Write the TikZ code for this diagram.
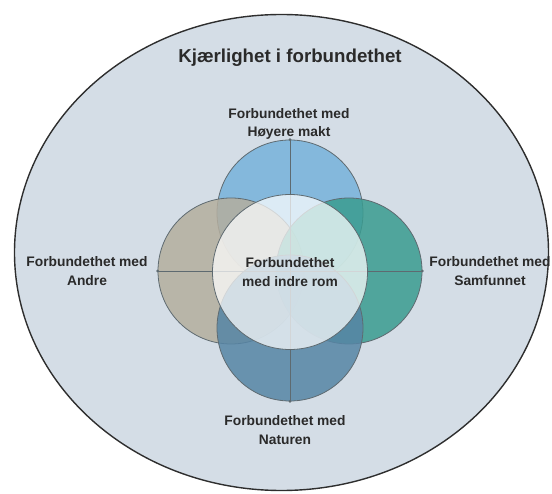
\documentclass[tikz,border=0pt]{standalone}
\usepackage{fontspec}
\setmainfont{Liberation Sans}
\usetikzlibrary{shapes.geometric}
\definecolor{bgfill}{HTML}{D4DDE6}
\definecolor{rimcol}{HTML}{2E2E2E}
\definecolor{topcol}{HTML}{76B2DB}
\definecolor{leftcol}{HTML}{B4AE9E}
\definecolor{rightcol}{HTML}{3A9C90}
\definecolor{botcol}{HTML}{5685A5}
\definecolor{txtcol}{HTML}{2A2A2A}
\definecolor{linecol}{HTML}{5E6A70}
\tikzset{
  petal/.style={circle, draw=linecol, line width=0.8pt, minimum size=146pt, inner sep=0pt, fill opacity=0.85},
  core/.style={circle, draw=linecol, line width=0.8pt, minimum size=155pt, inner sep=0pt, fill=white, fill opacity=0.72},
  lbl/.style={font=\fontsize{13.8}{18.5}\selectfont\bfseries, text=txtcol, align=center, inner sep=0pt},
  crossline/.style={draw=linecol, line width=0.7pt},
  enddot/.style={circle, fill=linecol, inner sep=0pt, minimum size=3pt}
}
\begin{document}
\begin{tikzpicture}[x=1pt,y=-1pt]
\useasboundingbox (0,0) rectangle (552,494);
\node[ellipse, draw=rimcol, line width=1.4pt, fill=bgfill, minimum width=534pt, minimum height=476pt, inner sep=0pt] (outer) at (281.5,252.5) {};
\node[font=\fontsize{18.7}{21}\selectfont\bfseries, text=txtcol] (title) at (290,58) {Kjærlighet i forbundethet};
\node[petal, fill=topcol] (ptop) at (290,213) {};
\node[petal, fill=leftcol] (pleft) at (231,271) {};
\node[petal, fill=rightcol] (pright) at (349,271) {};
\node[petal, fill=botcol] (pbot) at (290,328) {};
\draw[crossline] (pleft.west) -- (pright.east);
\draw[crossline] (ptop.north) -- (pbot.south);
\node[enddot] (dl) at (pleft.west) {};
\node[enddot] (dr) at (pright.east) {};
\node[enddot] (dt) at (ptop.north) {};
\node[enddot] (db) at (pbot.south) {};
\node[core] (pcore) at (290,272) {};
\node[lbl] (lcore) at (290,272) {Forbundethet\\med indre rom};
\node[lbl] (ltop) at (289,124) {Forbundethet med\\Høyere makt};
\node[lbl] (lleft) at (87,271) {Forbundethet med\\Andre};
\node[lbl] (lright) at (490,271) {Forbundethet med\\Samfunnet};
\node[lbl] (lbot) at (285,430) {Forbundethet med\\Naturen};
\end{tikzpicture}
\end{document}
